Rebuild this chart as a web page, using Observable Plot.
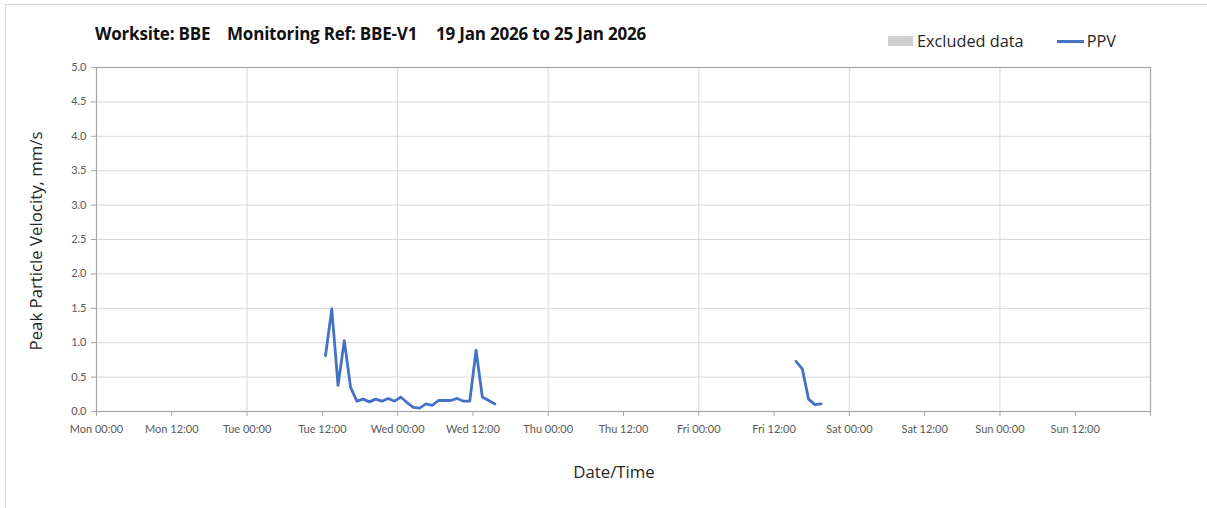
<!DOCTYPE html>
<html><head><meta charset="utf-8">
<script src="https://cdn.jsdelivr.net/npm/d3@7"></script>
<script src="https://cdn.jsdelivr.net/npm/@observablehq/plot@0.6"></script>
<style>
body{margin:0;background:#fff;font-family:Lato,"Open Sans",sans-serif}
#wrap{position:relative;width:1207px;height:508px;overflow:hidden}
#border{position:absolute;left:5px;top:4px;width:1400px;height:700px;border-left:1.5px solid #d9d9d9;border-top:1.5px solid #d9d9d9}
#chart{position:absolute;left:0;top:0}
#title{position:absolute;left:95px;top:22px;font-family:"Open Sans",sans-serif;font-weight:bold;font-size:17px;color:#111;white-space:pre;letter-spacing:-0.2px}
#legend{position:absolute;left:888px;top:30px;font-family:"Open Sans",sans-serif;font-size:16.3px;color:#262626;display:flex;align-items:center}
.sw{display:inline-block;width:25px;height:10px;background:#d0d0d0;margin-right:4px}
.ln{display:inline-block;width:27px;height:3px;background:#4472C4;margin-left:33px;margin-right:3px}
#ylab{position:absolute;left:35px;top:241px;transform:translate(-50%,-50%) rotate(-90deg);font-family:"Open Sans",sans-serif;font-size:16.8px;color:#262626;white-space:nowrap}
#xlab{position:absolute;left:614px;top:471px;transform:translate(-50%,-50%);font-family:"Open Sans",sans-serif;font-size:16.8px;color:#262626}
</style></head>
<body>
<div id="wrap">
  <div id="border"></div>
  <div id="chart"></div>
  <div id="title"><span id="t1">Worksite: BBE</span><span id="t2">Monitoring Ref: BBE-V1</span><span id="t3">19 Jan 2026 to 25 Jan 2026</span></div>
  <div id="legend"><span class="sw"></span><span>Excluded data</span><span class="ln"></span><span>PPV</span></div>
  <div id="ylab">Peak Particle Velocity, mm/s</div>
  <div id="xlab">Date/Time</div>
</div>
<script>
// Tick labels
const xTickLabels = ["Mon 00:00","Mon 12:00","Tue 00:00","Tue 12:00","Wed 00:00","Wed 12:00","Thu 00:00","Thu 12:00","Fri 00:00","Fri 12:00","Sat 00:00","Sat 12:00","Sun 00:00","Sun 12:00"];
const yTicks = [0,0.5,1,1.5,2,2.5,3,3.5,4,4.5,5];
const weekStart = "2026-01-19T00:00Z";
const weekEnd = "2026-01-26T00:00Z";

// Series 1: Tue 20 Jan 12:30 -> Wed 21 Jan 15:30
const seg1Times = ["2026-01-20T12:30Z","2026-01-20T13:30Z","2026-01-20T14:30Z","2026-01-20T15:30Z","2026-01-20T16:30Z","2026-01-20T17:30Z","2026-01-20T18:30Z","2026-01-20T19:30Z","2026-01-20T20:30Z","2026-01-20T21:30Z","2026-01-20T22:30Z","2026-01-20T23:30Z","2026-01-21T00:30Z","2026-01-21T01:30Z","2026-01-21T02:30Z","2026-01-21T03:30Z","2026-01-21T04:30Z","2026-01-21T05:30Z","2026-01-21T06:30Z","2026-01-21T07:30Z","2026-01-21T08:30Z","2026-01-21T09:30Z","2026-01-21T10:30Z","2026-01-21T11:30Z","2026-01-21T12:30Z","2026-01-21T13:30Z","2026-01-21T15:30Z"];
const seg1Values = [0.81,1.49,0.38,1.03,0.35,0.15,0.18,0.14,0.18,0.15,0.19,0.15,0.21,0.13,0.06,0.05,0.11,0.09,0.16,0.16,0.16,0.19,0.15,0.15,0.89,0.21,0.11];

// Series 2: Fri 23 Jan
const seg2Times = ["2026-01-23T15:30Z","2026-01-23T16:30Z","2026-01-23T17:30Z","2026-01-23T18:30Z","2026-01-23T19:30Z"];
const seg2Values = [0.73,0.62,0.18,0.10,0.11];

const data = [
  ...seg1Times.map((t,i)=>({t:new Date(t),v:seg1Values[i],s:1})),
  ...seg2Times.map((t,i)=>({t:new Date(t),v:seg2Values[i],s:2}))
];
const start = new Date(weekStart), end = new Date(weekEnd);
const xTicks = d3.utcHour.every(12).range(start, new Date(+end+1));
const dayTicks = d3.utcDay.range(start, new Date(+end+1));

const chart = Plot.plot({
  width:1207, height:508,
  marginLeft:96, marginRight:57, marginTop:67, marginBottom:97,
  style:{fontFamily:"Lato, 'Open Sans', sans-serif", fontSize:"11px", background:"transparent"},
  x:{type:"utc", domain:[start,end]},
  y:{domain:[0,5]},
  marks:[
    Plot.gridY(yTicks,{stroke:"#d9d9d9", strokeOpacity:1, strokeWidth:1}),
    Plot.gridX(dayTicks,{stroke:"#d9d9d9", strokeOpacity:1, strokeWidth:1}),
    Plot.frame({stroke:"#a6a6a6", strokeWidth:1.2}),
    Plot.axisY(yTicks,{tickFormat:d3.format(".1f"), tickSize:5, tickPadding:5, label:null, stroke:"#a6a6a6", fill:"#595959"}),
    Plot.axisX(xTicks,{tickFormat:(d,i)=>xTickLabels[i] ?? "", tickSize:5, tickPadding:9, label:null, stroke:"#a6a6a6", fill:"#595959"}),
    Plot.line(data,{x:"t", y:"v", z:"s", stroke:"#4472C4", strokeWidth:2.8, curve:"linear"})
  ]
});
document.getElementById("chart").appendChild(chart);

// place the three title parts at the reference's starting positions
const pos = {t1:0, t2:132, t3:341};
for (const [id, left] of Object.entries(pos)) {
  const el = document.getElementById(id);
  el.style.position = "absolute"; el.style.left = left + "px"; el.style.top = "0px";
}
</script>
</body></html>
